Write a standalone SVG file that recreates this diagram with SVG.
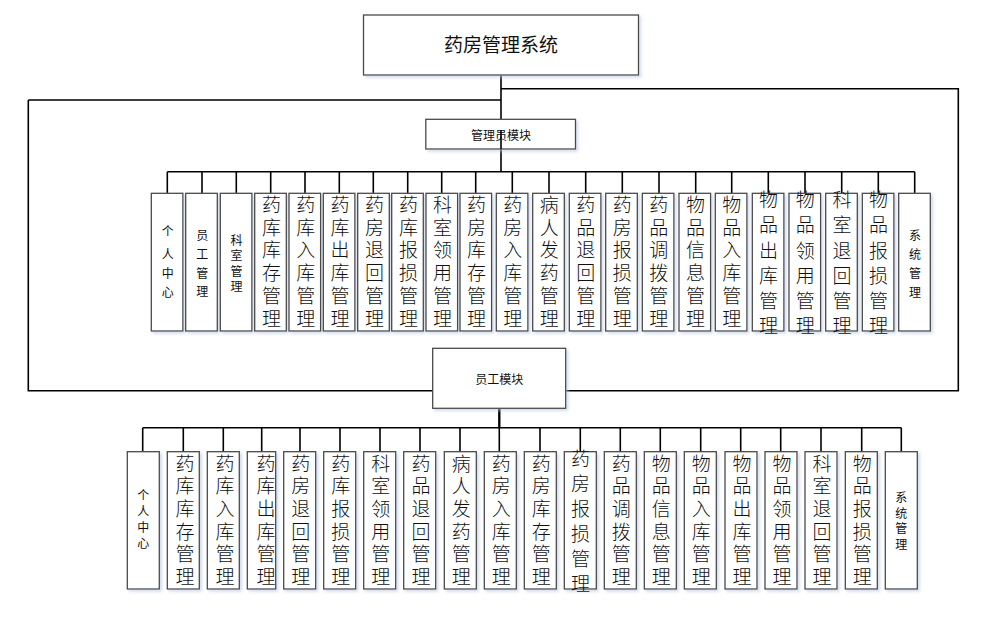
<svg xmlns="http://www.w3.org/2000/svg" width="1006" height="622" viewBox="0 0 1006 622">
<defs>
<filter id="sh" x="-20%" y="-20%" width="150%" height="150%">
<feDropShadow dx="2" dy="2" stdDeviation="1.5" flood-color="#b8c6e0" flood-opacity="0.6"/>
</filter>
</defs>
<style>
.box{fill:#fff;stroke:#4a4a4a;stroke-width:1.3;filter:url(#sh)}
.ln{stroke:#000;stroke-width:1.6;fill:none}
.t{font-family:"Noto Sans CJK SC","Noto Sans CJK JP",sans-serif;fill:#111;text-anchor:middle}
.b{font-size:19px;font-weight:300}
.s{font-size:12px}
.ti{font-size:19px}
</style>
<rect width="1006" height="622" fill="#fff"/>
<g id="connectors">
<path class="ln" d="M501 75V119M501 130V171.7M28.3 100H501M501 88.7H958.3V390.7H566M28.3 100V390.7H433"/>
<path class="ln" d="M167.3 171.7H914.7"/>
<path class="ln" d="M167.3 171.7V193.3M202 171.7V193.3M236.3 171.7V193.3M270.7 171.7V193.3M305 171.7V193.3M339.3 171.7V193.3M373.3 171.7V193.3M407.7 171.7V193.3M441.7 171.7V193.3M475.7 171.7V193.3M512.3 171.7V193.3M549 171.7V193.3M585.7 171.7V193.3M622.3 171.7V193.3M659 171.7V193.3M695.7 171.7V193.3M731.7 171.7V193.3M768.3 171.7V193.3M805 171.7V193.3M841.7 171.7V193.3M878.3 171.7V193.3M914.7 171.7V193.3"/>
<path class="ln" d="M499.3 408.3V427.7" style="stroke-width:2.4"/>
<path class="ln" d="M142.7 427.7H901.3"/>
<path class="ln" d="M142.7 427.7V451.7M183.3 427.7V451.7M223.3 427.7V451.7M261.7 427.7V451.7M300 427.7V451.7M340 427.7V451.7M380 427.7V451.7M420 427.7V451.7M460 427.7V451.7M499.3 427.7V451.7M540 427.7V451.7M580.3 427.7V451.7M620.3 427.7V451.7M660.3 427.7V451.7M700.7 427.7V451.7M740.7 427.7V451.7M780.7 427.7V451.7M821 427.7V451.7M861.7 427.7V451.7M901.3 427.7V451.7"/>
</g>
<g id="root"><rect class="box" x="363.5" y="15" width="275" height="60"/><text class="t ti" x="501" y="52">药房管理系统</text></g>
<g id="admin"><rect class="box" x="425.8" y="119.3" width="149.7" height="29.7"/><text class="t s" x="501" y="139.5">管理员模块</text></g>
<path class="ln" d="M501 130V149"/>
<g id="staff"><rect class="box" x="432.7" y="348.3" width="133" height="60"/><text class="t s" x="499.3" y="383.8">员工模块</text></g>
<g id="m1"><rect class="box" x="151.3" y="193.3" width="31.6" height="137.7"/><text class="t s" x="167.8 167.8 167.8 167.8" y="236.3 258.6 277.9 297.3">个人中心</text></g>
<g id="m2"><rect class="box" x="185.7" y="193.3" width="31.6" height="137.7"/><text class="t s" x="202.2 202.2 202.2 202.2" y="239.6 258.6 277.9 296.3">员工管理</text></g>
<g id="m3"><rect class="box" x="220.3" y="193.3" width="31.6" height="137.7"/><text class="t s" x="236.6 236.6 236.6 236.6" y="244.6 260.1 275.6 291.1">科室管理</text></g>
<g id="m4"><rect class="box" x="254.7" y="193.3" width="31.6" height="137.7"/><text class="t b" x="271.5 271.5 271.5 271.5 271.5 271.5" y="211.7 234.5 257.3 280.1 302.9 325.7">药库库存管理</text></g>
<g id="m5"><rect class="box" x="289" y="193.3" width="31.6" height="137.7"/><text class="t b" x="305.8 305.8 305.8 305.8 305.8 305.8" y="211.7 234.5 257.3 280.1 302.9 325.7">药库入库管理</text></g>
<g id="m6"><rect class="box" x="323.3" y="193.3" width="31.6" height="137.7"/><text class="t b" x="340.1 340.1 340.1 340.1 340.1 340.1" y="211.7 234.5 257.3 280.1 302.9 325.7">药库出库管理</text></g>
<g id="m7"><rect class="box" x="357.7" y="193.3" width="31.6" height="137.7"/><text class="t b" x="374.5 374.5 374.5 374.5 374.5 374.5" y="211.7 234.5 257.3 280.1 302.9 325.7">药房退回管理</text></g>
<g id="m8"><rect class="box" x="391.7" y="193.3" width="31.6" height="137.7"/><text class="t b" x="408.5 408.5 408.5 408.5 408.5 408.5" y="211.7 234.5 257.3 280.1 302.9 325.7">药库报损管理</text></g>
<g id="m9"><rect class="box" x="426" y="193.3" width="31.6" height="137.7"/><text class="t b" x="442.5 442.5 442.5 442.5 442.5 442.5" y="211.7 234.5 257.3 280.1 302.9 325.7">科室领用管理</text></g>
<g id="m10"><rect class="box" x="460" y="193.3" width="31.6" height="137.7"/><text class="t b" x="476.5 476.5 476.5 476.5 476.5 476.5" y="211.7 234.5 257.3 280.1 302.9 325.7">药房库存管理</text></g>
<g id="m11"><rect class="box" x="496.3" y="193.3" width="31.6" height="137.7"/><text class="t b" x="512.8 512.8 512.8 512.8 512.8 512.8" y="211.7 234.5 257.3 280.1 302.9 325.7">药房入库管理</text></g>
<g id="m12"><rect class="box" x="532.7" y="193.3" width="31.6" height="137.7"/><text class="t b" x="549.2 549.2 549.2 549.2 549.2 549.2" y="211.7 234.5 257.3 280.1 302.9 325.7">病人发药管理</text></g>
<g id="m13"><rect class="box" x="569.3" y="193.3" width="31.6" height="137.7"/><text class="t b" x="585.8 585.8 585.8 585.8 585.8 585.8" y="211.7 234.5 257.3 280.1 302.9 325.7">药品退回管理</text></g>
<g id="m14"><rect class="box" x="605.7" y="193.3" width="31.6" height="137.7"/><text class="t b" x="622.2 622.2 622.2 622.2 622.2 622.2" y="211.7 234.5 257.3 280.1 302.9 325.7">药房报损管理</text></g>
<g id="m15"><rect class="box" x="642.3" y="193.3" width="31.6" height="137.7"/><text class="t b" x="658.8 658.8 658.8 658.8 658.8 658.8" y="211.7 234.5 257.3 280.1 302.9 325.7">药品调拨管理</text></g>
<g id="m16"><rect class="box" x="679" y="193.3" width="31.6" height="137.7"/><text class="t b" x="695.5 695.5 695.5 695.5 695.5 695.5" y="211.7 234.5 257.3 280.1 302.9 325.7">物品信息管理</text></g>
<g id="m17"><rect class="box" x="715.3" y="193.3" width="31.6" height="137.7"/><text class="t b" x="731.8 731.8 731.8 731.8 731.8 731.8" y="211.7 234.5 257.3 280.1 302.9 325.7">物品入库管理</text></g>
<g id="m18"><rect class="box" x="752.3" y="193.3" width="31.6" height="137.7"/><text class="t b" x="768.6 768.6 768.6 768.6 768.6 768.6" y="207.2 232.4 257.6 282.8 308 333.2">物品出库管理</text></g>
<g id="m19"><rect class="box" x="789" y="193.3" width="31.6" height="137.7"/><text class="t b" x="805.3 805.3 805.3 805.3 805.3 805.3" y="207.2 232.4 257.6 282.8 308 333.2">物品领用管理</text></g>
<g id="m20"><rect class="box" x="825.7" y="193.3" width="31.6" height="137.7"/><text class="t b" x="842 842 842 842 842 842" y="207.2 232.4 257.6 282.8 308 333.2">科室退回管理</text></g>
<g id="m21"><rect class="box" x="862.3" y="193.3" width="31.6" height="137.7"/><text class="t b" x="878.6 878.6 878.6 878.6 878.6 878.6" y="207.2 232.4 257.6 282.8 308 333.2">物品报损管理</text></g>
<g id="m22"><rect class="box" x="898.7" y="193.3" width="31.6" height="137.7"/><text class="t s" x="915 915 915 915" y="239.6 258.6 277.9 297.3">系统管理</text></g>
<g id="e1"><rect class="box" x="127.3" y="451.7" width="32" height="137.3"/><text class="t s" x="143.3 143.3 143.3 143.3" y="499.6 515.6 531.6 547.6">个人中心</text></g>
<g id="e2"><rect class="box" x="167.3" y="451.7" width="32" height="137.3"/><text class="t b" x="185 185 185 185 185 185" y="470.5 493.2 515.9 538.6 561.3 584">药库库存管理</text></g>
<g id="e3"><rect class="box" x="207.3" y="451.7" width="32" height="137.3"/><text class="t b" x="225 225 225 225 225 225" y="470.5 493.2 515.9 538.6 561.3 584">药库入库管理</text></g>
<g id="e4"><rect class="box" x="247.3" y="451.7" width="28.4" height="137.3"/><text class="t b" x="266 266 266 266 266 266" y="470.5 493.2 515.9 538.6 561.3 584">药库出库管理</text></g>
<g id="e5"><rect class="box" x="283.7" y="451.7" width="32" height="137.3"/><text class="t b" x="300.7 300.7 300.7 300.7 300.7 300.7" y="470.5 493.2 515.9 538.6 561.3 584">药房退回管理</text></g>
<g id="e6"><rect class="box" x="323.7" y="451.7" width="32" height="137.3"/><text class="t b" x="340.7 340.7 340.7 340.7 340.7 340.7" y="470.5 493.2 515.9 538.6 561.3 584">药库报损管理</text></g>
<g id="e7"><rect class="box" x="363.7" y="451.7" width="32" height="137.3"/><text class="t b" x="380.7 380.7 380.7 380.7 380.7 380.7" y="470.5 493.2 515.9 538.6 561.3 584">科室领用管理</text></g>
<g id="e8"><rect class="box" x="403.7" y="451.7" width="32" height="137.3"/><text class="t b" x="421 421 421 421 421 421" y="470.5 493.2 515.9 538.6 561.3 584">药品退回管理</text></g>
<g id="e9"><rect class="box" x="444.3" y="451.7" width="32" height="137.3"/><text class="t b" x="461.3 461.3 461.3 461.3 461.3 461.3" y="470.5 493.2 515.9 538.6 561.3 584">病人发药管理</text></g>
<g id="e10"><rect class="box" x="484.3" y="451.7" width="32" height="137.3"/><text class="t b" x="501.3 501.3 501.3 501.3 501.3 501.3" y="470.5 493.2 515.9 538.6 561.3 584">药房入库管理</text></g>
<g id="e11"><rect class="box" x="524.3" y="451.7" width="32" height="137.3"/><text class="t b" x="541.3 541.3 541.3 541.3 541.3 541.3" y="470.5 493.2 515.9 538.6 561.3 584">药房库存管理</text></g>
<g id="e12"><rect class="box" x="564.3" y="451.7" width="32" height="137.3"/><text class="t b" x="580.5 580.5 580.5 580.5 580.5 580.5" y="465.5 490.5 515.5 540.5 565.5 590.5">药房报损管理</text></g>
<g id="e13"><rect class="box" x="604.3" y="451.7" width="32" height="137.3"/><text class="t b" x="621.3 621.3 621.3 621.3 621.3 621.3" y="470.5 493.2 515.9 538.6 561.3 584">药品调拨管理</text></g>
<g id="e14"><rect class="box" x="644.3" y="451.7" width="32" height="137.3"/><text class="t b" x="661.3 661.3 661.3 661.3 661.3 661.3" y="470.5 493.2 515.9 538.6 561.3 584">物品信息管理</text></g>
<g id="e15"><rect class="box" x="684.3" y="451.7" width="32" height="137.3"/><text class="t b" x="701.3 701.3 701.3 701.3 701.3 701.3" y="470.5 493.2 515.9 538.6 561.3 584">物品入库管理</text></g>
<g id="e16"><rect class="box" x="725" y="451.7" width="32" height="137.3"/><text class="t b" x="742 742 742 742 742 742" y="470.5 493.2 515.9 538.6 561.3 584">物品出库管理</text></g>
<g id="e17"><rect class="box" x="765" y="451.7" width="32" height="137.3"/><text class="t b" x="782 782 782 782 782 782" y="470.5 493.2 515.9 538.6 561.3 584">物品领用管理</text></g>
<g id="e18"><rect class="box" x="805" y="451.7" width="32" height="137.3"/><text class="t b" x="822 822 822 822 822 822" y="470.5 493.2 515.9 538.6 561.3 584">科室退回管理</text></g>
<g id="e19"><rect class="box" x="845.3" y="451.7" width="32" height="137.3"/><text class="t b" x="862.3 862.3 862.3 862.3 862.3 862.3" y="470.5 493.2 515.9 538.6 561.3 584">物品报损管理</text></g>
<g id="e20"><rect class="box" x="885.3" y="451.7" width="32" height="137.3"/><text class="t s" x="901.3 901.3 901.3 901.3" y="501.6 517.6 533.1 548.6">系统管理</text></g>
</svg>
